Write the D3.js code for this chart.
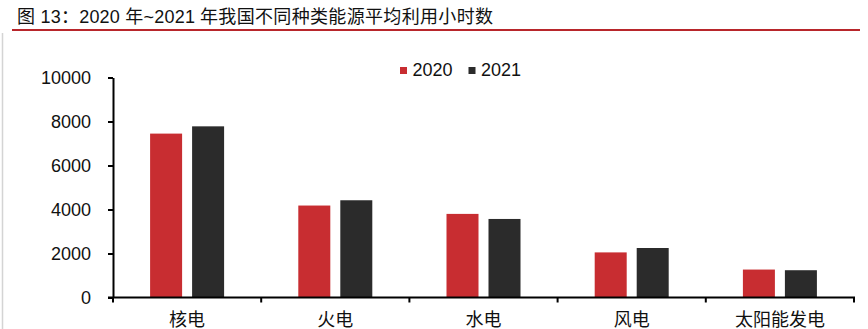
<!DOCTYPE html>
<html>
<head>
<meta charset="utf-8">
<script src="https://cdn.jsdelivr.net/npm/d3@7"></script>
<style>
    html, body { margin: 0; padding: 0; background: #fff; }
    svg { display: block; }
    text { font-family: "Liberation Sans", Arial, "Noto Sans CJK SC", sans-serif; fill: #111; }
</style>
</head>
<body>
<svg id="chart" width="868" height="329"></svg>
<script>
// chart values
const titleParts = [
    { text: '图 13：2020 年~2021', x: 17, len: 178 },
    { text: '年我国不同种类能源平均利用小时数', x: 200, len: 293 }
];
const categories = ['核电', '火电', '水电', '风电', '太阳能发电'];
const years = ['2020', '2021'];
const hours2020 = [7450, 4180, 3800, 2050, 1270];
const hours2021 = [7780, 4420, 3570, 2250, 1240];
const yTicks = [0, 2000, 4000, 6000, 8000, 10000];

const seriesColors = { '2020': '#c82d31', '2021': '#2b2b2b' };

const svg = d3.select('#chart');
const height = 329;

const plot = { left: 113, right: 854, top: 77.5, bottom: 297.5 };

// title + red rule + grey frame edge
svg.append('g')
    .selectAll('text')
    .data(titleParts)
    .join('text')
    .attr('x', (d) => d.x)
    .attr('y', 22.5)
    .attr('font-size', 18)
    .attr('fill', '#222')
    .attr('textLength', (d) => d.len)
    .attr('lengthAdjust', 'spacing')
    .text((d) => d.text);

svg.append('rect')
    .attr('x', 12)
    .attr('y', 29)
    .attr('width', 848)
    .attr('height', 2)
    .attr('fill', '#b8262b');

svg.append('line')
    .attr('x1', 2.5).attr('x2', 2.5)
    .attr('y1', 33).attr('y2', height)
    .attr('stroke', '#d4d4d4')
    .attr('stroke-width', 1.5);

const x0 = d3.scaleBand().domain(categories).range([plot.left, plot.right]).padding(0);
const x1 = d3.scaleBand()
    .domain(years)
    .range([x0.bandwidth() / 2 - 37, x0.bandwidth() / 2 + 37])
    .paddingInner(10 / 42)
    .paddingOuter(0);
const y = d3.scaleLinear().domain([0, 10000]).range([plot.bottom, plot.top]);

const rows = categories.map((name, i) => ({
    name,
    values: [
        { year: '2020', value: hours2020[i] },
        { year: '2021', value: hours2021[i] }
    ]
}));

// bars
svg.append('g')
    .selectAll('g')
    .data(rows)
    .join('g')
    .attr('transform', (d) => `translate(${x0(d.name)},0)`)
    .selectAll('rect')
    .data((d) => d.values)
    .join('rect')
    .attr('x', (d) => x1(d.year))
    .attr('y', (d) => y(d.value))
    .attr('width', x1.bandwidth())
    .attr('height', (d) => y(0) - y(d.value))
    .attr('fill', (d) => seriesColors[d.year]);

// y axis
const yAxis = svg.append('g')
    .attr('transform', `translate(${plot.left},0)`)
    .call(d3.axisLeft(y).tickValues(yTicks).tickFormat(d3.format('d')).tickSize(5).tickPadding(17).tickSizeOuter(0));
yAxis.select('.domain').attr('stroke', '#000').attr('stroke-width', 2);
yAxis.selectAll('.tick line').attr('stroke', '#000').attr('stroke-width', 2);
yAxis.selectAll('.tick text')
    .attr('font-size', 18)
    .attr('font-family', '"Liberation Sans", Arial, sans-serif')
    .attr('fill', '#111');

// x axis: ticks sit on the category boundaries
const boundaries = categories.map((c) => x0(c)).concat([plot.right]);
const xAxis = svg.append('g');
xAxis.append('line')
    .attr('x1', plot.left - 5).attr('x2', plot.right + 1)
    .attr('y1', y(0)).attr('y2', y(0))
    .attr('stroke', '#000').attr('stroke-width', 2);
xAxis.selectAll('line.tick')
    .data(boundaries)
    .join('line')
    .attr('class', 'tick')
    .attr('x1', (d) => d).attr('x2', (d) => d)
    .attr('y1', y(0)).attr('y2', y(0) + 5)
    .attr('stroke', '#000').attr('stroke-width', 2);
xAxis.selectAll('text')
    .data(categories)
    .join('text')
    .attr('x', (d) => x0(d) + x0.bandwidth() / 2)
    .attr('y', 326)
    .attr('text-anchor', 'middle')
    .attr('font-size', 18)
    .text((d) => d);

// legend
const legend = svg.append('g')
    .selectAll('g')
    .data(years)
    .join('g')
    .attr('transform', (d, i) => `translate(${400 + i * 68.5},0)`);
legend.append('rect')
    .attr('x', 0).attr('y', 67)
    .attr('width', 7).attr('height', 7)
    .attr('fill', (d) => seriesColors[d]);
legend.append('text')
    .attr('x', 12.5)
    .attr('y', 75.5)
    .attr('font-size', 18)
    .text((d) => d);
</script>
</body>
</html>
